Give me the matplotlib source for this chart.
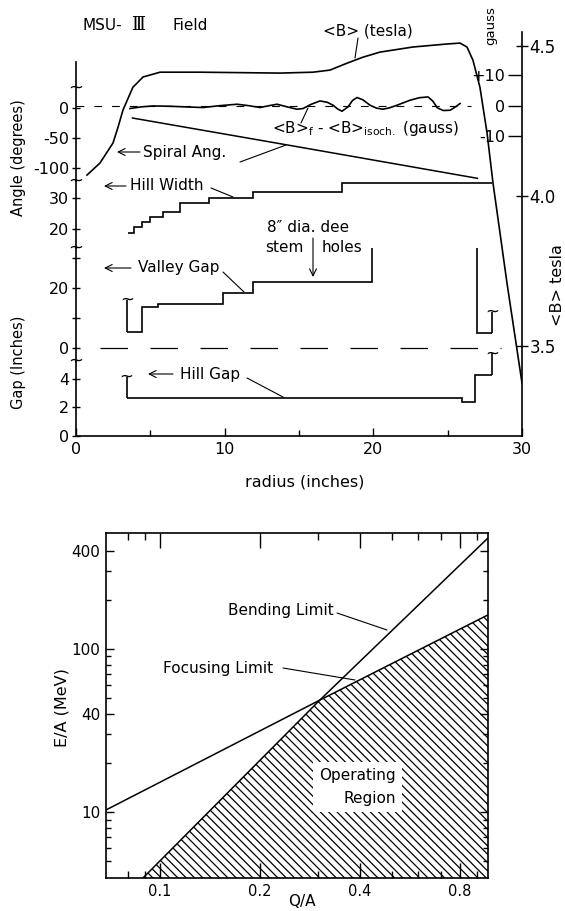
import matplotlib
matplotlib.use("Agg")
import matplotlib.pyplot as plt
from matplotlib.patches import FancyArrowPatch
from matplotlib.ticker import NullFormatter

plt.rcParams['font.family'] = 'DejaVu Sans'
plt.rcParams['hatch.linewidth'] = 0.9

W, H = 565, 911

# ---- MSU-III field data, radius in inches ----
b_r = [0.74, 1.61, 2.49, 2.83, 3.16, 3.83, 4.51, 5.65, 8.34, 13.72, 15.94, 17.08,
       18.23, 19.30, 20.45, 22.67, 24.95, 25.83, 26.30, 26.70, 27.17, 27.65, 28.05,
       28.52, 28.99, 30.0]
b_tesla = [4.069, 4.109, 4.176, 4.229, 4.286, 4.362, 4.396, 4.412, 4.412, 4.409, 4.412,
           4.419, 4.442, 4.462, 4.479, 4.496, 4.506, 4.509, 4.496, 4.452, 4.362, 4.209,
           4.042, 3.876, 3.709, 3.376]

dev_r = [3.63, 4.4, 5.18, 6.3, 7.47, 8.54, 9.7, 10.83, 11.6, 12.38, 13.0, 13.52, 14.2,
         14.86, 15.27, 15.8, 16.41, 16.9, 17.29, 17.6, 17.89, 18.3, 18.6, 18.9, 19.3,
         19.78, 20.2, 20.65, 21.1, 21.59, 22.0, 22.47, 23.1, 23.68, 24.0, 24.3, 24.7,
         25.16, 25.5, 25.83]
dev_gauss = [-0.85, -0.3, 0.0, -0.1, -0.33, -0.52, 0.1, 0.56, 0.1, -0.52, 0.1, 0.56, -0.3,
             -1.08, -0.85, 0.5, 1.64, 1.2, 0.23, -1.0, -1.74, -0.3, 1.8, 2.75, 2.0,
             0.23, -0.7, -1.08, -0.6, 0.23, 1.0, 1.87, 2.7, 2.95, 1.6, -0.6, -1.5,
             -1.41, -0.4, 0.79]

spiral_r = [3.8, 15.0, 27.0]
spiral_deg = [-16.7, -65.0, -117.2]

hw_edges = [3.52, 3.90, 4.42, 4.98, 5.87, 7.00, 8.95, 11.93, 17.89, 27.98]
hw_deg = [18.6, 20.5, 22.4, 23.8, 25.6, 28.3, 29.9, 32.0, 34.9]

vg_edges = [3.43, 4.45, 5.5, 9.9, 11.93, 19.9, 26.95, 27.98]
vg_gap = [5.2, 13.8, 14.6, 18.2, 22.1, 36.3, 5.1]
vg_legs = [16.0, 12.1]

hg_edges = [3.41, 25.94, 26.84, 27.98]
hg_gap = [2.65, 2.41, 4.28]
hg_legs = [4.16, 5.8]

# ---- operating region data ----
focus_qa = [0.0688, 0.303, 0.973]
focus_ea = [10.3, 48.6, 162]
bend_qa = [0.0889, 0.303, 0.973]
bend_ea = [3.94, 48.6, 480]
region_qa = [0.0889, 0.303, 0.973, 0.973]
region_ea = [3.94, 48.6, 162, 3.94]

fig = plt.figure(figsize=(W / 100, H / 100), dpi=100)

ARROW = '->,head_length=0.5,head_width=0.25'


def frame(x0, y0, x1, y1):
    return [x0 / W, 1 - y1 / H, (x1 - x0) / W, (y1 - y0) / H]


def label(x, y, s, **kw):
    kw.setdefault('ha', 'left')
    kw.setdefault('va', 'center')
    return fig.text(x / W, 1 - y / H, s, **kw)


def line(x0, y0, x1, y1, style='-'):
    # leader lines and arrows, in reference pixel positions
    p = FancyArrowPatch((x0 / W, 1 - y0 / H), (x1 / W, 1 - y1 / H),
                        transform=fig.transFigure, arrowstyle=style,
                        mutation_scale=10, color='k', lw=0.8,
                        shrinkA=0, shrinkB=0, zorder=5)
    fig.add_artist(p)


def band(y0, y1, ylim):
    a = fig.add_axes(frame(76, y0, 522, y1))
    a.set_xlim(0, 30)
    a.set_ylim(*ylim)
    a.patch.set_visible(False)
    for s in ('top', 'right', 'bottom'):
        a.spines[s].set_visible(False)
    a.spines['left'].set_linewidth(1.2)
    a.tick_params(axis='x', bottom=False, labelbottom=False)
    a.tick_params(axis='y', direction='inout', length=6, width=1, pad=2, labelsize=11.5)
    return a


# tesla axis (right side, full height)
ax_b = fig.add_axes(frame(76, 32, 522, 436))
ax_b.set_xlim(0, 30)
ax_b.set_ylim(3.199, 4.546)
ax_b.patch.set_visible(False)
for s in ('top', 'left', 'bottom'):
    ax_b.spines[s].set_visible(False)
ax_b.spines['right'].set_linewidth(1.2)
ax_b.tick_params(axis='x', bottom=False, labelbottom=False)
ax_b.yaxis.tick_right()
ax_b.set_yticks([3.5, 4.0, 4.5], ['3.5', '4.0', '4.5'])
ax_b.tick_params(axis='y', direction='inout', length=9, width=1, pad=1, labelsize=12)
ax_b.plot(b_r, b_tesla, color='k', lw=1.2)

# angle band
ax_a = band(62, 181, (-121.67, 76.67))
ax_a.set_yticks([0, -50, -100], ['0', '-50', '-100'])
ax_a.plot(spiral_r, spiral_deg, color='k', lw=1.1)

# gauss scale, ticks hung on the right spine
ax_g = band(62, 181, (-24.6, 14.4))
ax_g.spines['left'].set_position(('axes', 1.0))
ax_g.spines['left'].set_visible(False)
ax_g.set_yticks([10, 0, -10], ['+10', '0', '-10'])
ax_g.tick_params(axis='y', direction='out', length=10, pad=2)
ax_g.hlines(0, 0, 26.6, colors='k', lw=0.8, linestyles=(0, (7, 9)))
ax_g.plot(dev_r, dev_gauss, color='k', lw=1.2)

# hill width
ax_hw = band(181, 248, (13.87, 35.48))
ax_hw.set_yticks([20, 30], ['20', '30'])
ax_hw.stairs(hw_deg, hw_edges, baseline=None, color='k', lw=1.2)

# valley gap
ax_vg = band(248, 361, (-4.33, 33.33))
ax_vg.set_yticks([0, 10, 20, 30], ['0', '', '20', ''])
ax_vg.stairs(vg_gap, vg_edges, baseline=None, color='k', lw=1.2)
ax_vg.vlines([vg_edges[0], vg_edges[-1]], [vg_gap[0], vg_gap[-1]], vg_legs,
             colors='k', lw=1.2)
ax_vg.hlines(0, 1.6, 28.6, colors='k', lw=0.9, linestyles=(0, (22, 18)))
for x, y in zip([vg_edges[0], vg_edges[-1]], vg_legs):
    ax_vg.text(x, y, '~', ha='center', va='center', fontsize=12)

# hill gap
ax_hg = band(361, 436, (0, 5.26))
ax_hg.set_yticks([0, 2, 4], ['0', '2', '4'])
ax_hg.stairs(hg_gap, hg_edges, baseline=None, color='k', lw=1.2)
ax_hg.vlines([hg_edges[0], hg_edges[-1]], [hg_gap[0], hg_gap[-1]], hg_legs,
             colors='k', lw=1.2, clip_on=False)
for x, y in zip([hg_edges[0], hg_edges[-1]], hg_legs):
    ax_hg.text(x, y, '~', ha='center', va='center', fontsize=12, clip_on=False)
ax_hg.spines['bottom'].set_visible(True)
ax_hg.spines['bottom'].set_linewidth(1.2)
ax_hg.set_xticks([0, 10, 20, 30], ['0', '10', '20', '30'])
ax_hg.set_xticks([5, 15, 25], minor=True)
ax_hg.tick_params(axis='x', which='major', bottom=True, labelbottom=True, direction='in',
                  length=6, width=1, pad=4, labelsize=11.5)
ax_hg.tick_params(axis='x', which='minor', bottom=True, direction='in', length=4, width=1)

# breaks on the left spine
for y in (88, 181, 248, 361):
    label(76, y, '~', ha='center', fontsize=13)

# labels / annotations, top panel
label(83, 25, 'MSU-', fontsize=11)
label(131, 25, '\u2162', fontsize=13, family='DejaVu Serif')
label(172, 25, 'Field', fontsize=11)
label(491, 26, 'gauss', ha='center', rotation=90, fontsize=9.5)
label(557, 285, '<B> tesla', ha='center', rotation=90, fontsize=11.5)
label(19, 158, 'Angle (degrees)', ha='center', rotation=90, fontsize=10.5)
label(19, 362, 'Gap (Inches)', ha='center', rotation=90, fontsize=10.5)
label(305, 482, 'radius (inches)', ha='center', fontsize=11.5)

label(323, 31, '<B> (tesla)', fontsize=11)
line(358, 38, 355, 58)
label(272, 129, r'<B>$_\mathregular{f}$ - <B>$_\mathregular{isoch.}$ (gauss)', fontsize=11)
line(301, 123, 308, 108)

label(143, 152, 'Spiral Ang.', fontsize=11)
line(140, 152, 117, 152, ARROW)
line(240, 162, 286, 145)

label(130, 186, 'Hill Width', fontsize=11)
line(126, 186, 104, 186, ARROW)
line(211, 188, 233, 197)

label(267, 228, '8\u2033 dia. dee', fontsize=11)
label(304, 248, 'stem', ha='right', fontsize=11)
label(322, 248, 'holes', fontsize=11)
line(313, 238, 313, 277, ARROW)

label(138, 268, 'Valley Gap', fontsize=11)
line(131, 268, 104, 268, ARROW)
line(223, 272, 244, 292)

label(180, 374, 'Hill Gap', fontsize=11)
line(173, 374, 148, 374, ARROW)
line(247, 378, 283, 397)

# ---- bottom panel ----
ax2 = fig.add_axes(frame(106, 533, 488, 878))
ax2.set_xscale('log')
ax2.set_yscale('log')
ax2.set_xlim(0.0688, 0.973)
ax2.set_ylim(3.94, 515)
ax2.fill(region_qa, region_ea, facecolor='none', edgecolor='k', hatch='\\\\\\\\',
         linewidth=0)
ax2.plot(focus_qa, focus_ea, color='k', lw=1.1)
ax2.plot(bend_qa, bend_ea, color='k', lw=1.1)
for s in ax2.spines.values():
    s.set_linewidth(1.2)

ax2.set_xticks([0.1, 0.2, 0.4, 0.8], ['0.1', '0.2', '0.4', '0.8'])
ax2.set_xticks([0.08, 0.09, 0.3, 0.5, 0.6, 0.7, 0.9], minor=True)
ax2.set_yticks([10, 40, 100, 400], ['10', '40', '100', '400'])
ax2.set_yticks([5, 6, 7, 8, 9, 20, 30, 50, 60, 70, 80, 90, 200, 300], minor=True)
ax2.xaxis.set_minor_formatter(NullFormatter())
ax2.yaxis.set_minor_formatter(NullFormatter())
ax2.tick_params(which='both', direction='in', top=True, right=True, width=1)
ax2.tick_params(axis='x', which='major', length=11, pad=4, labelsize=10.5)
ax2.tick_params(axis='x', which='minor', length=5)
ax2.tick_params(axis='y', which='major', length=6, pad=4, labelsize=11)
ax2.tick_params(axis='y', which='minor', length=3.5)

label(62, 708, 'E/A (MeV)', ha='center', rotation=90, fontsize=11.5)
label(302, 902, 'Q/A', ha='center', fontsize=11)

label(228, 610, 'Bending Limit', fontsize=11)
line(337, 613, 387, 630)
label(163, 669, 'Focusing Limit', fontsize=11)
line(283, 668, 355, 680)
label(396, 787, 'Operating\nRegion', ha='right', multialignment='right',
      linespacing=1.6, fontsize=11,
      bbox=dict(boxstyle='square,pad=0.4', facecolor='white', edgecolor='none'))

fig.savefig('out.png', dpi=100)
